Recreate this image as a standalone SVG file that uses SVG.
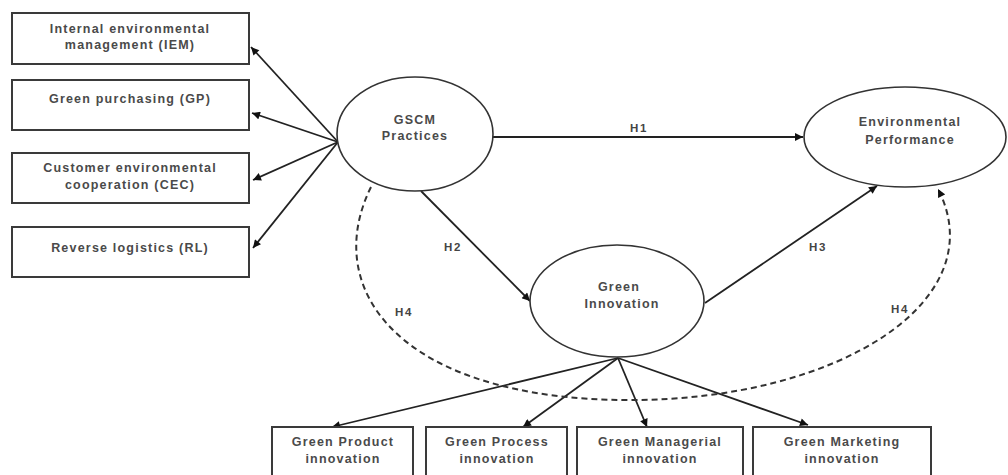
<svg xmlns="http://www.w3.org/2000/svg" width="1008" height="475" viewBox="0 0 1008 475">
<style>
.box{fill:#fff;stroke:#3a3a3a;stroke-width:2}
.ell{fill:#fff;stroke:#333;stroke-width:1.6}
.t{font-family:"Liberation Sans",Arial,sans-serif;font-size:12.5px;font-weight:bold;fill:#4a4a4a;text-anchor:middle;letter-spacing:1.2px}
.lbl{font-family:"Liberation Sans",Arial,sans-serif;font-size:11.5px;font-weight:bold;fill:#444;text-anchor:middle;letter-spacing:1.6px}
.c{fill:none;stroke:#222;stroke-width:1.8}
.d{fill:none;stroke:#333;stroke-width:2;stroke-dasharray:6 4}
</style>
<defs>
<marker id="ah" viewBox="0 0 10 10" refX="10" refY="5" markerUnits="userSpaceOnUse" markerWidth="9" markerHeight="8" orient="auto">
<path d="M0,0 L10,5 L0,10 z" fill="#111"/>
</marker>
</defs>
<g id="connectors">
<line class="c" x1="338" y1="142" x2="251" y2="47" marker-end="url(#ah)"/>
<line class="c" x1="338" y1="142" x2="252" y2="113" marker-end="url(#ah)"/>
<line class="c" x1="338" y1="142" x2="253" y2="180" marker-end="url(#ah)"/>
<line class="c" x1="338" y1="142" x2="253" y2="248" marker-end="url(#ah)"/>
<line class="c" x1="493" y1="137" x2="803" y2="137" marker-end="url(#ah)"/>
<line class="c" x1="421" y1="191" x2="530" y2="301" marker-end="url(#ah)"/>
<line class="c" x1="705" y1="303" x2="877" y2="186" marker-end="url(#ah)"/>
<line class="c" x1="618" y1="358" x2="332" y2="427" marker-end="url(#ah)"/>
<line class="c" x1="618" y1="358" x2="523" y2="427" marker-end="url(#ah)"/>
<line class="c" x1="618" y1="358" x2="647" y2="427" marker-end="url(#ah)"/>
<line class="c" x1="618" y1="358" x2="808" y2="425" marker-end="url(#ah)"/>
<path class="d" d="M371 187 C320 290 400 400 630 400 C840 400 995 300 938 189" marker-end="url(#ah)"/>
<text class="lbl" x="639" y="132">H1</text>
<text class="lbl" x="453" y="251">H2</text>
<text class="lbl" x="818" y="251">H3</text>
<text class="lbl" x="404" y="316">H4</text>
<text class="lbl" x="900" y="313">H4</text>
</g>
<g id="iem">
<rect class="box" x="12" y="13" width="237" height="51"/>
<text class="t" x="130" y="33">Internal environmental</text>
<text class="t" x="130" y="49">management (IEM)</text>
</g>
<g id="gp">
<rect class="box" x="12" y="80" width="237" height="50"/>
<text class="t" x="130" y="103">Green purchasing (GP)</text>
</g>
<g id="cec">
<rect class="box" x="12" y="153" width="237" height="50"/>
<text class="t" x="130" y="172">Customer environmental</text>
<text class="t" x="130" y="189">cooperation (CEC)</text>
</g>
<g id="rl">
<rect class="box" x="12" y="227" width="237" height="50"/>
<text class="t" x="130" y="252">Reverse logistics (RL)</text>
</g>
<g id="gscm">
<ellipse class="ell" cx="415" cy="134" rx="78" ry="57"/>
<text class="t" x="415" y="124">GSCM</text>
<text class="t" x="415" y="140">Practices</text>
</g>
<g id="envperf">
<ellipse class="ell" cx="905" cy="137" rx="101" ry="50"/>
<text class="t" x="910" y="126">Environmental</text>
<text class="t" x="910" y="144">Performance</text>
</g>
<g id="greeninnov">
<ellipse class="ell" cx="617" cy="301" rx="87" ry="56"/>
<text class="t" x="619" y="291">Green</text>
<text class="t" x="622" y="308">Innovation</text>
</g>
<g id="gprod">
<rect class="box" x="272" y="427" width="141" height="60"/>
<text class="t" x="343" y="446">Green Product</text>
<text class="t" x="343" y="463">innovation</text>
</g>
<g id="gproc">
<rect class="box" x="426" y="427" width="141" height="60"/>
<text class="t" x="497" y="446">Green Process</text>
<text class="t" x="497" y="463">innovation</text>
</g>
<g id="gman">
<rect class="box" x="577" y="427" width="166" height="60"/>
<text class="t" x="660" y="446">Green Managerial</text>
<text class="t" x="660" y="463">innovation</text>
</g>
<g id="gmkt">
<rect class="box" x="753" y="427" width="178" height="60"/>
<text class="t" x="842" y="446">Green Marketing</text>
<text class="t" x="842" y="463">innovation</text>
</g>
</svg>
